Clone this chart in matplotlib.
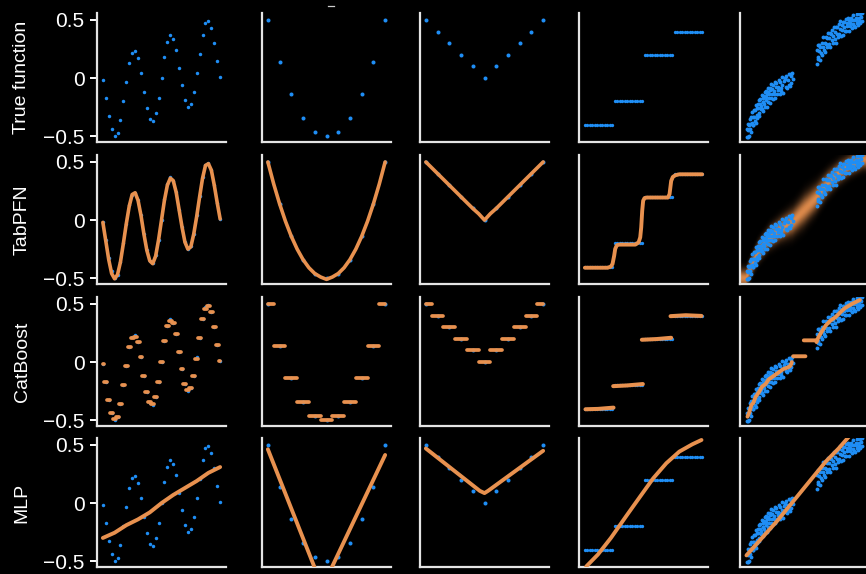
import numpy as np
import matplotlib
matplotlib.use("Agg")
import matplotlib.pyplot as plt
from matplotlib.colors import to_rgb
from matplotlib.lines import Line2D

# ------------------------------------------------------------------ data
row_labels = ["True function", "TabPFN", "CatBoost", "MLP"]
ytick_values = [-0.5, 0, 0.5]
ytick_labels = ["\u22120.5", "0", "0.5"]

# column 1 : wavy function, 41 evenly spaced samples
sine_x = np.arange(41)
sine_true = [-0.02, -0.17, -0.33, -0.44, -0.50, -0.47, -0.36, -0.20, -0.03, 0.13,
             0.22, 0.23, 0.17, 0.04, -0.12, -0.26, -0.35, -0.37, -0.30, -0.17,
             0.00, 0.18, 0.31, 0.37, 0.34, 0.24, 0.09, -0.06, -0.19, -0.25,
             -0.22, -0.12, 0.04, 0.21, 0.37, 0.47, 0.49, 0.43, 0.30, 0.15, 0.01]
sine_tabpfn = [-0.02, -0.18, -0.34, -0.46, -0.505, -0.47, -0.36, -0.20, -0.03, 0.12,
               0.22, 0.235, 0.17, 0.04, -0.12, -0.26, -0.35, -0.375, -0.31, -0.17,
               0.00, 0.17, 0.30, 0.36, 0.34, 0.24, 0.09, -0.06, -0.19, -0.25,
               -0.23, -0.12, 0.03, 0.20, 0.36, 0.47, 0.485, 0.43, 0.30, 0.15, 0.01]
sine_catboost = [-0.02, -0.17, -0.33, -0.44, -0.49, -0.47, -0.36, -0.20, -0.03, 0.13,
                 0.21, 0.22, 0.17, 0.04, -0.12, -0.26, -0.345, -0.36, -0.30, -0.17,
                 0.00, 0.18, 0.31, 0.35, 0.34, 0.24, 0.09, -0.06, -0.19, -0.24,
                 -0.22, -0.12, 0.03, 0.21, 0.37, 0.46, 0.48, 0.43, 0.30, 0.15, 0.01]
sine_mlp_x = [0, 4, 8, 12, 16, 20, 24, 28, 32, 36, 40]
sine_mlp = [-0.30, -0.255, -0.19, -0.14, -0.08, 0.00, 0.07, 0.13, 0.19, 0.26, 0.31]

# column 2 : parabola, 11 samples
par_x = np.linspace(-1, 1, 11)
par_true = [0.50, 0.14, -0.14, -0.34, -0.46, -0.50, -0.46, -0.34, -0.14, 0.14, 0.50]
par_tab_x = np.linspace(-1, 1, 21)
par_tabpfn = [0.50, 0.31, 0.14, -0.01, -0.14, -0.25, -0.34, -0.41, -0.46, -0.49, -0.51,
              -0.49, -0.46, -0.41, -0.34, -0.25, -0.14, -0.01, 0.14, 0.31, 0.50]
par_catboost = [0.50, 0.14, -0.14, -0.34, -0.46, -0.50, -0.46, -0.34, -0.14, 0.14, 0.50]
par_mlp_x = [-1.0, -0.07, 1.0]
par_mlp = [0.463, -0.724, 0.414]

# column 3 : absolute value, 11 samples
abs_x = np.linspace(-1, 1, 11)
abs_true = [0.50, 0.40, 0.30, 0.20, 0.10, 0.00, 0.10, 0.20, 0.30, 0.40, 0.50]
abs_tab_x = np.linspace(-1, 1, 21)
abs_tabpfn = [0.50, 0.45, 0.40, 0.35, 0.30, 0.25, 0.20, 0.15, 0.10, 0.055, 0.00,
              0.055, 0.10, 0.15, 0.20, 0.25, 0.30, 0.35, 0.40, 0.45, 0.50]
abs_catboost = [0.50, 0.40, 0.30, 0.20, 0.10, 0.00, 0.10, 0.20, 0.30, 0.40, 0.50]
abs_mlp_x = [-1.0, -0.08, 0.0, 0.06, 1.0]
abs_mlp = [0.47, 0.105, 0.086, 0.105, 0.45]

# column 4 : step function, 48 samples
step_x = np.linspace(-1, 1, 48)
step_levels = [-0.4, -0.2, 0.2, 0.4]
step_true = np.repeat(step_levels, 12)
step_tab_x = [-1.0, -0.611, -0.556, -0.528, -0.5, -0.483, -0.456, -0.417, -0.139, -0.083,
              -0.056, -0.039, -0.022, -0.006, 0.017, 0.056, 0.417, 0.444, 0.472, 0.5,
              0.544, 0.611, 1.0]
step_tabpfn = [-0.41, -0.41, -0.40, -0.377, -0.306, -0.249, -0.217, -0.211, -0.211, -0.191,
               -0.149, -0.063, 0.08, 0.166, 0.189, 0.194, 0.194, 0.223, 0.337, 0.371,
               0.386, 0.394, 0.394]
step_cat_x = [-0.989, -0.778, -0.511, np.nan, -0.517, -0.278, -0.011, np.nan,
              -0.028, 0.222, 0.472, np.nan, 0.461, 0.722, 0.989]
step_catboost = [-0.406, -0.403, -0.392, np.nan, -0.207, -0.201, -0.189, np.nan,
                 0.192, 0.198, 0.209, np.nan, 0.395, 0.403, 0.397]
step_mlp_x = [-1.0, -0.972, -0.778, -0.556, -0.278, -0.056, 0.167, 0.389, 0.611, 0.833, 0.989]
step_mlp = [-0.58, -0.543, -0.443, -0.30, -0.10, 0.057, 0.214, 0.343, 0.443, 0.506, 0.543]

# column 5 : two noisy clusters (lower cluster then upper cluster)
clus_x = [0.006, 0.010, 0.014, 0.018, 0.021, 0.025, 0.028, 0.032, 0.036, 0.039,
          0.043, 0.047, 0.050, 0.054, 0.058, 0.061, 0.065, 0.069, 0.072, 0.076,
          0.080, 0.083, 0.087, 0.091, 0.094, 0.098, 0.102, 0.105, 0.109, 0.113,
          0.116, 0.120, 0.124, 0.127, 0.131, 0.135, 0.138, 0.142, 0.146, 0.149,
          0.153, 0.157, 0.160, 0.164, 0.168, 0.171, 0.175, 0.179, 0.182, 0.186,
          0.190, 0.193, 0.197, 0.201, 0.204, 0.208, 0.212, 0.216, 0.220, 0.224,
          0.228, 0.232, 0.236, 0.240, 0.245, 0.250, 0.255, 0.260, 0.265, 0.270,
          0.276, 0.282, 0.288, 0.294, 0.300, 0.306, 0.312, 0.318, 0.325, 0.332,
          0.339, 0.346, 0.353, 0.360, 0.367, 0.374, 0.381, 0.388, 0.395, 0.402,
          0.150, 0.210, 0.300, 0.330, 0.370, 0.385,
          0.603, 0.607, 0.611, 0.615, 0.619, 0.623, 0.627, 0.631, 0.636, 0.641,
          0.646, 0.651, 0.656, 0.661, 0.666, 0.671, 0.676, 0.681, 0.686, 0.691,
          0.696, 0.701, 0.706, 0.711, 0.716, 0.721, 0.726, 0.731, 0.736, 0.741,
          0.746, 0.751, 0.756, 0.761, 0.766, 0.771, 0.776, 0.781, 0.786, 0.791,
          0.796, 0.801, 0.806, 0.811, 0.816, 0.821, 0.826, 0.831, 0.836, 0.841,
          0.846, 0.851, 0.856, 0.861, 0.866, 0.871, 0.876, 0.881, 0.886, 0.891,
          0.896, 0.901, 0.906, 0.911, 0.916, 0.921, 0.926, 0.931, 0.936, 0.941,
          0.946, 0.951, 0.956, 0.961, 0.966, 0.971, 0.976, 0.981, 0.987, 0.994]
clus_y = [-0.505, -0.435, -0.510, -0.395, -0.448, -0.498, -0.400, -0.350, -0.440, -0.392,
          -0.464, -0.335, -0.389, -0.290, -0.402, -0.335, -0.407, -0.278, -0.332, -0.373,
          -0.275, -0.390, -0.233, -0.316, -0.260, -0.344, -0.227, -0.261, -0.304, -0.187,
          -0.322, -0.225, -0.180, -0.265, -0.240, -0.144, -0.270, -0.175, -0.279, -0.205,
          -0.150, -0.224, -0.120, -0.246, -0.161, -0.188, -0.113, -0.249, -0.135, -0.121,
          -0.206, -0.083, -0.168, -0.134, -0.212, -0.088, -0.175, -0.051, -0.138, -0.094,
          -0.181, -0.057, -0.114, -0.140, -0.036, -0.173, -0.079, -0.045, -0.141, -0.078,
          -0.103, -0.019, -0.135, -0.031, -0.108, 0.006, -0.060, -0.126, -0.023, 0.001,
          -0.076, 0.018, -0.089, -0.015, 0.039, -0.068, 0.016, -0.041, 0.043, -0.004,
          -0.204, -0.106, -0.088, -0.010, -0.060, 0.038,
          0.124, 0.240, 0.185, 0.281, 0.167, 0.232, 0.288, 0.153, 0.270, 0.217,
          0.304, 0.201, 0.267, 0.353, 0.239, 0.305, 0.221, 0.357, 0.293, 0.349,
          0.265, 0.391, 0.296, 0.341, 0.386, 0.271, 0.376, 0.331, 0.416, 0.301,
          0.366, 0.441, 0.335, 0.400, 0.304, 0.439, 0.383, 0.438, 0.352, 0.467,
          0.381, 0.426, 0.489, 0.363, 0.456, 0.410, 0.483, 0.367, 0.440, 0.484,
          0.407, 0.511, 0.404, 0.477, 0.450, 0.513, 0.406, 0.499, 0.472, 0.445,
          0.518, 0.431, 0.503, 0.466, 0.545, 0.451, 0.503, 0.436, 0.518, 0.501,
          0.473, 0.550, 0.457, 0.519, 0.491, 0.555, 0.475, 0.527, 0.490, 0.558]
clus_tab_x = [0.0, 0.1, 0.2, 0.3, 0.4, 0.5, 0.6, 0.7, 0.8, 0.9, 1.0]
clus_tab_c = [-0.50, -0.28, -0.15, -0.075, -0.015, 0.09, 0.19, 0.32, 0.415, 0.48, 0.525]
clus_tab_w = [0.05, 0.053, 0.057, 0.063, 0.072, 0.08, 0.072, 0.063, 0.057, 0.053, 0.05]
clus_cat_x = [0.014, 0.030, 0.047, 0.064, 0.083, 0.111, 0.139, 0.167, 0.194, 0.236,
              0.278, 0.319, 0.361, 0.381, 0.392, np.nan, 0.403, 0.508, np.nan,
              0.494, 0.597, np.nan, 0.603, 0.619, 0.653, 0.681, 0.722, 0.764, 0.806,
              0.847, 0.903, 0.972]
clus_catboost = [-0.47, -0.43, -0.37, -0.35, -0.30, -0.26, -0.21, -0.19, -0.15, -0.12,
                 -0.09, -0.06, -0.045, -0.03, 0.00, np.nan, 0.05, 0.05, np.nan,
                 0.187, 0.187, np.nan, 0.172, 0.215, 0.272, 0.315, 0.358, 0.386, 0.429,
                 0.466, 0.50, 0.534]
clus_mlp_x = [0.005, 0.125, 0.264, 0.403, 0.542, 0.681, 0.792, 0.861, 1.0]
clus_mlp = [-0.45, -0.314, -0.157, 0.014, 0.186, 0.357, 0.471, 0.551, 0.71]

# ------------------------------------------------------------------ style
BLUE = "#1f8ef5"
ORANGE = "#e8914f"
SPINE = "#e4e4e4"
plt.rcParams["font.family"] = ["Liberation Sans", "DejaVu Sans"]

W, H = 866, 574
fig = plt.figure(figsize=(W / 100, H / 100), dpi=100, facecolor="black")

col_left = [97, 262, 420, 579, 740]
row_top = [13, 155, 297, 438]
AW, AH = 129, 129
YLIM = (-0.55, 0.56)
LW = 2.6
MS = 2.6


def make_ax(r, c):
    ax = fig.add_axes([col_left[c] / W, 1 - (row_top[r] + AH) / H, AW / W, AH / H])
    ax.set_facecolor("black")
    for s in ("top", "right"):
        ax.spines[s].set_visible(False)
    for s in ("left", "bottom"):
        ax.spines[s].set_color(SPINE)
        ax.spines[s].set_linewidth(1.6)
    ax.set_xticks([])
    ax.set_ylim(*YLIM)
    if c == 0:
        ax.set_yticks(ytick_values)
        ax.set_yticklabels(ytick_labels)
        ax.tick_params(axis="y", colors="white", labelcolor="white", length=5,
                       width=1.4, pad=4, labelsize=15)
    else:
        ax.set_yticks([])
    return ax


def set_xlim_from(ax, xs):
    xs = np.asarray(xs, dtype=float)
    lo, hi = np.nanmin(xs), np.nanmax(xs)
    pad = 0.05 * (hi - lo)
    ax.set_xlim(lo - pad, hi + pad)


def blue(ax, x, y, ms=MS, z=2):
    ax.plot(x, y, "o", color=BLUE, ms=ms, mew=0, zorder=z)


def orange_line(ax, x, y, lw=LW, z=3):
    ax.plot(x, y, "-", color=ORANGE, lw=lw, solid_capstyle="round",
            solid_joinstyle="round", zorder=z)


def dashes(ax, x, y, lw=2.7):
    x = np.asarray(x, dtype=float)
    edges = np.concatenate([[x[0]], (x[:-1] + x[1:]) / 2, [x[-1]]])
    ax.hlines(y, edges[:-1], edges[1:], colors=ORANGE, lw=lw, capstyle="round", zorder=3)


orange_rgb = to_rgb(ORANGE)

for r in range(4):
    axs = [make_ax(r, c) for c in range(5)]
    a1, a2, a3, a4, a5 = axs
    set_xlim_from(a1, sine_x)
    set_xlim_from(a2, par_x)
    set_xlim_from(a3, abs_x)
    set_xlim_from(a4, step_x)
    set_xlim_from(a5, [0.0, 1.0])

    blue(a1, sine_x, sine_true, ms=2.5)
    blue(a2, par_x, par_true, ms=2.9)
    blue(a3, abs_x, abs_true, ms=2.9)
    blue(a4, step_x, step_true, ms=2.4)

    if r == 1:
        orange_line(a1, sine_x, sine_tabpfn)
        orange_line(a2, par_tab_x, par_tabpfn)
        orange_line(a3, abs_tab_x, abs_tabpfn)
        orange_line(a4, step_tab_x, step_tabpfn, lw=2.8)
        # glow band (predictive distribution)
        x0, x1 = a5.get_xlim()
        gx = np.linspace(x0, x1, 400)
        gy = np.linspace(YLIM[0], YLIM[1], 400)
        cc = np.interp(gx, clus_tab_x, clus_tab_c)
        ww = np.interp(gx, clus_tab_x, clus_tab_w)
        GX, GY = np.meshgrid(gx, gy)
        alpha = 0.95 * np.exp(-0.5 * ((GY - cc[None, :]) / ww[None, :]) ** 2)
        img = np.zeros(alpha.shape + (4,))
        img[..., 0], img[..., 1], img[..., 2] = orange_rgb
        img[..., 3] = alpha
        a5.imshow(img, extent=(x0, x1, YLIM[0], YLIM[1]), origin="lower",
                  aspect="auto", interpolation="bilinear", zorder=1)
        a5.set_xlim(x0, x1)
        a5.set_ylim(*YLIM)
        blue(a5, clus_x, clus_y, ms=2.8, z=4)
    else:
        blue(a5, clus_x, clus_y, ms=2.8)

    if r == 2:
        dashes(a1, sine_x, sine_catboost, lw=2.7)
        dashes(a2, par_x, par_catboost)
        dashes(a3, abs_x, abs_catboost)
        orange_line(a4, step_cat_x, step_catboost, lw=2.9)
        orange_line(a5, clus_cat_x, clus_catboost, lw=2.8)

    if r == 3:
        orange_line(a1, sine_mlp_x, sine_mlp, lw=2.8)
        orange_line(a2, par_mlp_x, par_mlp, lw=2.8)
        orange_line(a3, abs_mlp_x, abs_mlp, lw=2.8)
        orange_line(a4, step_mlp_x, step_mlp, lw=2.8)
        orange_line(a5, clus_mlp_x, clus_mlp, lw=2.8)

    fig.text(22 / W, 1 - (row_top[r] + AH / 2) / H, row_labels[r], rotation=90,
             ha="center", va="center", color="white", fontsize=14)

# small stray mark at the top of the second column (present in the reference)
fig.add_artist(Line2D([328 / W, 334 / W], [1 - 6 / H, 1 - 6 / H],
                      transform=fig.transFigure, color="#cccccc", lw=0.9))

fig.savefig("out.png", dpi=100, facecolor="black")
